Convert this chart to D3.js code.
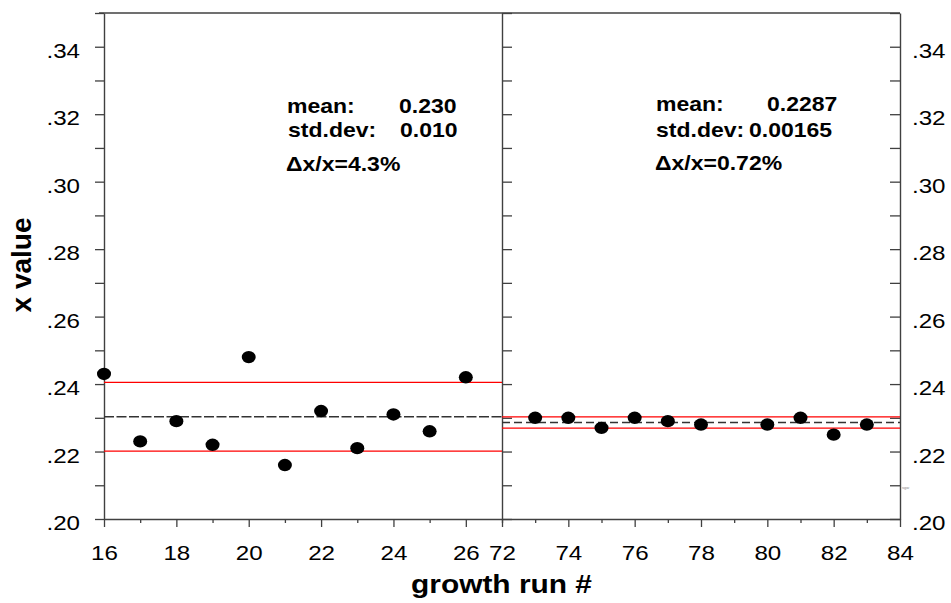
<!DOCTYPE html>
<html>
<head>
<meta charset="utf-8">
<script src="https://cdn.jsdelivr.net/npm/d3@7"></script>
<style>
  html, body { margin: 0; padding: 0; background: #fff; }
  svg { display: block; font-family: "Liberation Sans", Arial, sans-serif; }
</style>
</head>
<body>
<svg id="chart" width="951" height="603"></svg>
<script>
// ---------- data ----------
const runsA   = [16, 17, 18, 19, 20, 21, 22, 23, 24, 25, 26];
const valuesA = [0.243, 0.223, 0.229, 0.222, 0.248, 0.216, 0.232, 0.221, 0.231, 0.226, 0.242];
const meanA = 0.2303;
const sdA   = 0.0102;

const runsB   = [73, 74, 75, 76, 77, 78, 80, 81, 82, 83];
const valuesB = [0.230, 0.230, 0.227, 0.230, 0.229, 0.228, 0.228, 0.230, 0.225, 0.228];
const meanB = 0.2286;
const sdB   = 0.00165;

const yTicks  = [0.20, 0.21, 0.22, 0.23, 0.24, 0.25, 0.26, 0.27, 0.28, 0.29, 0.30, 0.31, 0.32, 0.33, 0.34, 0.35];
const xTicksA = [16, 17, 18, 19, 20, 21, 22, 23, 24, 25, 26, 27];
const xTicksB = [72, 73, 74, 75, 76, 77, 78, 79, 80, 81, 82, 83, 84];

const statsA = ["mean:", "0.230", "std.dev:", "0.010", "\u0394x/x=4.3%"];
const statsB = ["mean:", "0.2287", "std.dev:", "0.00165", "\u0394x/x=0.72%"];

const xTitle = "growth run #";
const yTitle = "x value";

// ---------- layout ----------
const SX = 1.15;              // horizontal stretch of the original picture
const axisColor = "#404040";
const svg = d3.select("#chart");

const y  = d3.scaleLinear().domain([0.20, 0.35]).range([519, 13]);
const xA = d3.scaleLinear().domain([16, 27]).range([104, 502]);
const xB = d3.scaleLinear().domain([72, 84]).range([502, 900]);

const isMajorY = v => Math.round(v * 100) % 2 === 0;
const fmtY = v => isMajorY(v) ? d3.format(".2f")(v).replace(/^0/, "") : "";
const fmtX = (last) => v => (v % 2 === 0 && v !== last) ? String(v) : "";

function styleAxis(g) {
  g.selectAll("path.domain").attr("stroke", axisColor).attr("stroke-width", 1.4);
  g.selectAll(".tick line").attr("stroke", axisColor).attr("stroke-width", 1.3);
  g.selectAll("text").attr("fill", "#000").style("font-size", "21px");
}
function stretchText(sel) {
  sel.each(function () {
    const t = d3.select(this);
    const x = +t.attr("x") || 0;
    const yy = +t.attr("y") || 0;
    t.attr("x", 0).attr("y", 0)
     .attr("transform", `translate(${x},${yy}) scale(${SX},1)`);
  });
}

// top frame line
svg.append("line")
  .attr("x1", xA(16) - 5).attr("x2", xB(84))
  .attr("y1", y(0.35)).attr("y2", y(0.35))
  .attr("stroke", axisColor).attr("stroke-width", 1.4);

// left y axis
const gL = svg.append("g").attr("transform", `translate(${xA(16)},0)`)
  .call(d3.axisLeft(y).tickValues(yTicks).tickSize(9).tickPadding(15).tickSizeOuter(0).tickFormat(fmtY));
styleAxis(gL);
gL.selectAll("text").attr("dy", "0.5em");
stretchText(gL.selectAll("text"));

// divider (left axis of right panel, ticks inward)
const gD = svg.append("g").attr("transform", `translate(${xB(72)},0)`)
  .call(d3.axisRight(y).tickValues(yTicks).tickSize(10).tickSizeOuter(0).tickFormat(""));
styleAxis(gD);

// right y axis, ticks inward, labels outside
const gR = svg.append("g").attr("transform", `translate(${xB(84)},0)`)
  .call(d3.axisRight(y).tickValues(yTicks).tickSize(-10).tickPadding(12).tickSizeOuter(0).tickFormat(fmtY));
styleAxis(gR);
gR.selectAll("text").attr("dy", "0.5em");
stretchText(gR.selectAll("text"));

// bottom axes
function bottomAxis(scale, ticks, last) {
  const g = svg.append("g").attr("transform", `translate(0,${y(0.20)})`)
    .call(d3.axisBottom(scale).tickValues(ticks).tickSize(8).tickSizeOuter(0).tickFormat(fmtX(last)));
  styleAxis(g);
  g.selectAll(".tick").filter(d => d % 2 !== 0).select("line").attr("y2", 4);
  g.selectAll("text").attr("y", 41).attr("dy", 0);
  stretchText(g.selectAll("text"));
  return g;
}
bottomAxis(xA, xTicksA, 27);
bottomAxis(xB, xTicksB, null);

// ---------- panels ----------
function panel(xs, runs, vals, mean, sd, dash) {
  const [x0, x1] = xs.range();
  const g = svg.append("g");
  [mean - sd, mean + sd].forEach(v => {
    g.append("line").attr("x1", x0).attr("x2", x1)
      .attr("y1", y(v)).attr("y2", y(v))
      .attr("stroke", "#ff0000").attr("stroke-width", 1.3);
  });
  g.append("line").attr("x1", x0).attr("x2", x1)
    .attr("y1", y(mean)).attr("y2", y(mean))
    .attr("stroke", "#333").attr("stroke-width", 1.5)
    .attr("stroke-dasharray", dash);
  g.selectAll("ellipse").data(runs.map((r, i) => [r, vals[i]])).enter()
    .append("ellipse")
    .attr("cx", d => xs(d[0])).attr("cy", d => y(d[1]))
    .attr("rx", 7).attr("ry", 6.2).attr("fill", "#000");
}
panel(xA, runsA, valuesA, meanA, sdA, "10,2.5");
panel(xB, runsB, valuesB, meanB, sdB, "8,4");

// ---------- annotations ----------
function annot(txt, x, yy) {
  svg.append("text").text(txt)
    .attr("transform", `translate(${x},${yy}) scale(${SX},1)`)
    .style("font-size", "20px").style("font-weight", "bold").attr("fill", "#000");
}
annot(statsA[0], 287, 113); annot(statsA[1], 399, 113);
annot(statsA[2], 288, 137); annot(statsA[3], 400, 137);
annot(statsA[4], 286, 171);
annot(statsB[0], 656, 111); annot(statsB[1], 767, 111);
annot(statsB[2], 656, 137); annot(statsB[3], 749, 137);
annot(statsB[4], 655, 170);

// ---------- titles ----------
svg.append("text").text(xTitle)
  .attr("transform", `translate(501.5,593) scale(${SX},1)`)
  .attr("text-anchor", "middle")
  .style("font-size", "26px").style("font-weight", "bold").attr("fill", "#000");

svg.append("text").text(yTitle)
  .attr("transform", `translate(31,265) rotate(-90)`)
  .attr("text-anchor", "middle")
  .style("font-size", "28px").style("font-weight", "bold").attr("fill", "#000");

// tiny mark at right
svg.append("text").text("sgw")
  .attr("x", 902).attr("y", 489)
  .style("font-size", "4px").attr("fill", "#888");
</script>
</body>
</html>
